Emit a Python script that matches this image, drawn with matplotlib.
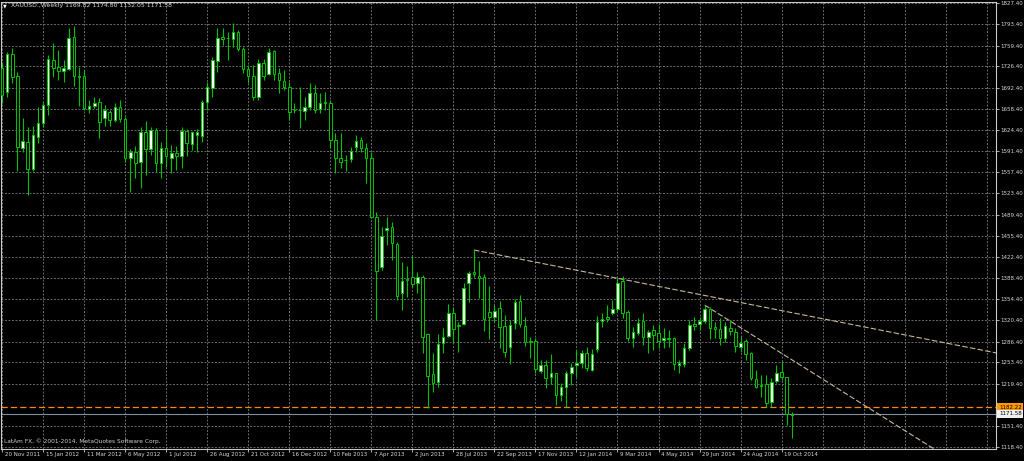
import numpy as np
import matplotlib.pyplot as plt
from matplotlib.transforms import blended_transform_factory, offset_copy

plt.rcParams['font.family'] = ['DejaVu Sans']

# --- data (one bar per week, first bar = 20 Nov 2011)
symbol = "XAUUSD.,Weekly"
credit = "LatAm FX, \u00a9 2001-2014, MetaQuotes Software Corp."

opens = [1724, 1685, 1746, 1711, 1596, 1605, 1562, 1613, 1636, 1665,
         1736, 1725, 1719, 1722, 1773, 1711, 1711, 1658, 1663, 1669,
         1644, 1653, 1641, 1661, 1642, 1580, 1589, 1574, 1621, 1594,
         1625, 1572, 1596, 1580, 1588, 1583, 1623, 1602, 1617, 1615,
         1669, 1692, 1735, 1773, 1772, 1770, 1781, 1754, 1722, 1711,
         1677, 1732, 1714, 1751, 1716, 1703, 1693, 1657, 1657, 1655,
         1661, 1684, 1658, 1669, 1668, 1609, 1580, 1577, 1578, 1597,
         1609, 1596, 1580, 1486, 1406, 1465, 1470, 1443, 1364, 1387,
         1390, 1380, 1390, 1299, 1235, 1222, 1284, 1296, 1332, 1313,
         1315, 1380, 1398, 1391, 1390, 1334, 1326, 1340, 1312, 1278,
         1316, 1352, 1312, 1288, 1288, 1240, 1249, 1230, 1237, 1201,
         1214, 1237, 1249, 1253, 1268, 1241, 1275, 1320, 1326, 1332,
         1339, 1383, 1334, 1292, 1300, 1320, 1294, 1305, 1300, 1289,
         1292, 1292, 1249, 1251, 1276, 1315, 1315, 1320, 1339, 1310,
         1307, 1292, 1308, 1302, 1278, 1288, 1268, 1227, 1217, 1219,
         1190, 1224, 1238, 1230, 1169.82]
highs = [1733, 1749, 1756, 1717, 1644, 1629, 1631, 1661, 1669, 1744,
         1764, 1752, 1736, 1788, 1791, 1725, 1720, 1672, 1677, 1676,
         1665, 1657, 1668, 1672, 1646, 1595, 1599, 1629, 1639, 1629,
         1628, 1605, 1628, 1601, 1599, 1629, 1626, 1623, 1626, 1672,
         1701, 1741, 1787, 1787, 1781, 1795, 1784, 1757, 1728, 1728,
         1738, 1738, 1755, 1752, 1724, 1720, 1701, 1668, 1693, 1677,
         1700, 1696, 1684, 1685, 1672, 1620, 1620, 1585, 1597, 1617,
         1613, 1604, 1589, 1494, 1470, 1486, 1478, 1446, 1414, 1407,
         1423, 1398, 1393, 1300, 1269, 1299, 1308, 1347, 1342, 1318,
         1380, 1399, 1433, 1415, 1395, 1376, 1345, 1351, 1329, 1321,
         1355, 1361, 1326, 1294, 1292, 1257, 1257, 1267, 1237, 1221,
         1240, 1253, 1273, 1273, 1278, 1275, 1328, 1332, 1345, 1353,
         1388, 1391, 1337, 1310, 1324, 1332, 1305, 1313, 1315, 1308,
         1305, 1294, 1257, 1284, 1321, 1326, 1326, 1345, 1342, 1318,
         1324, 1318, 1321, 1308, 1296, 1291, 1270, 1241, 1233, 1233,
         1229, 1249, 1254, 1230, 1174.80]
lows = [1668, 1677, 1700, 1559, 1590, 1521, 1559, 1604, 1630, 1649,
        1709, 1704, 1701, 1720, 1695, 1663, 1656, 1652, 1660, 1612,
        1631, 1631, 1637, 1637, 1574, 1526, 1548, 1532, 1553, 1585,
        1557, 1548, 1566, 1556, 1561, 1564, 1583, 1593, 1589, 1605,
        1657, 1677, 1717, 1760, 1736, 1757, 1751, 1716, 1700, 1672,
        1672, 1704, 1712, 1704, 1684, 1688, 1641, 1652, 1628, 1641,
        1656, 1652, 1652, 1656, 1596, 1556, 1564, 1559, 1573, 1589,
        1589, 1540, 1484, 1321, 1401, 1441, 1417, 1353, 1337, 1358,
        1374, 1364, 1269, 1181, 1206, 1214, 1269, 1294, 1284, 1270,
        1313, 1350, 1390, 1356, 1304, 1291, 1318, 1276, 1262, 1251,
        1307, 1310, 1280, 1260, 1237, 1237, 1213, 1219, 1185, 1192,
        1182, 1217, 1230, 1245, 1240, 1240, 1270, 1310, 1318, 1329,
        1334, 1324, 1288, 1278, 1297, 1281, 1269, 1273, 1276, 1276,
        1278, 1241, 1237, 1246, 1273, 1305, 1305, 1316, 1291, 1292,
        1281, 1286, 1297, 1270, 1270, 1257, 1225, 1213, 1198, 1182,
        1182, 1221, 1225, 1154, 1132.05]
closes = [1681, 1746, 1709, 1598, 1607, 1562, 1617, 1636, 1665, 1738,
          1724, 1719, 1724, 1772, 1711, 1710, 1660, 1663, 1668, 1637,
          1657, 1641, 1661, 1642, 1580, 1589, 1572, 1621, 1594, 1625,
          1572, 1596, 1583, 1588, 1583, 1623, 1604, 1621, 1621, 1669,
          1693, 1736, 1772, 1770, 1771, 1781, 1754, 1722, 1711, 1677,
          1732, 1711, 1749, 1714, 1704, 1693, 1653, 1656, 1656, 1661,
          1684, 1656, 1668, 1667, 1609, 1580, 1573, 1576, 1591, 1607,
          1596, 1580, 1486, 1400, 1455, 1468, 1444, 1360, 1383, 1385,
          1379, 1390, 1294, 1232, 1221, 1283, 1294, 1332, 1307, 1312,
          1372, 1396, 1395, 1388, 1323, 1326, 1336, 1310, 1270, 1313,
          1350, 1315, 1286, 1286, 1243, 1249, 1229, 1237, 1201, 1214,
          1237, 1246, 1253, 1268, 1245, 1267, 1318, 1323, 1323, 1339,
          1380, 1332, 1292, 1302, 1316, 1294, 1302, 1297, 1288, 1292,
          1291, 1251, 1253, 1276, 1313, 1312, 1320, 1339, 1308, 1307,
          1292, 1312, 1304, 1280, 1284, 1267, 1229, 1214, 1216, 1189,
          1222, 1236, 1230, 1171, 1171.58]

date_labels = ["20 Nov 2011", "15 Jan 2012", "11 Mar 2012", "6 May 2012",
               "1 Jul 2012", "26 Aug 2012", "21 Oct 2012", "16 Dec 2012",
               "10 Feb 2013", "7 Apr 2013", "2 Jun 2013", "28 Jul 2013",
               "22 Sep 2013", "17 Nov 2013", "12 Jan 2014", "9 Mar 2014",
               "4 May 2014", "29 Jun 2014", "24 Aug 2014", "19 Oct 2014"]
bars_per_label = 8

price_ticks = [1827.40, 1793.40, 1759.40, 1726.40, 1692.40, 1658.40, 1624.40,
               1591.40, 1557.40, 1523.40, 1489.40, 1455.40, 1422.40, 1388.40,
               1354.40, 1320.40, 1286.40, 1253.40, 1219.40, 1151.40, 1118.40]

hline_level = 1182.22
bid_level = closes[-1]

# trend lines (bar index, price) anchors
trend1_x = [92, 193]
trend1_y = [1433, 1270]
trend2_x = [137, 181]
trend2_y = [1345, 1119]

# --- drawing
green = '#00c400'
o = np.array(opens); h = np.array(highs); l = np.array(lows); c = np.array(closes)
x = np.arange(len(o))
up = c >= o

fig = plt.figure(figsize=(10.24, 4.61), dpi=100, facecolor='black')
ax = fig.add_axes([1 / 1024, 12 / 461, 995 / 1024, 447 / 461])
ax.set_facecolor('black')
ax.set_xlim(-0.2, 193.8)
ax.set_ylim(1115.2, 1829.0)

# grid
major = np.arange(0, len(date_labels) * bars_per_label, bars_per_label)
minor = np.arange(major[-1] + bars_per_label, 194, bars_per_label)
ax.set_xticks(major)
ax.set_xticks(minor, minor=True)
ax.set_yticks(price_ticks)
ax.grid(True, which='both', color='#686c70', linestyle=(0, (2, 1.6)), lw=0.7)
ax.set_axisbelow(True)

# horizontal line object and bid line
ax.axhline(hline_level, color='#ff8800', lw=0.9, linestyle=(0, (5, 2.5)), zorder=1)
ax.axhline(bid_level, color='#7f8ea0', lw=0.8, zorder=1)

# trend lines extended to the right edge
for tx, ty in [(trend1_x, trend1_y), (trend2_x, trend2_y)]:
    slope = (ty[1] - ty[0]) / (tx[1] - tx[0])
    xe = np.array([tx[0], 200])
    ax.plot(xe, ty[0] + slope * (xe - tx[0]), color='#c9b79c', lw=0.8,
            linestyle=(0, (5, 2)), zorder=2)

# candles
ax.vlines(x, l, h, color=green, lw=0.8, zorder=3)
bottom = np.minimum(o, c)
height = np.abs(c - o)
ax.bar(x[up], height[up], bottom=bottom[up], width=0.5, color='white',
       edgecolor=green, lw=0.7, zorder=4)
ax.bar(x[~up], height[~up], bottom=bottom[~up], width=0.5, color='black',
       edgecolor=green, lw=0.7, zorder=4)

# axes look
for s in ax.spines.values():
    s.set_color('#c8c8c8')
    s.set_linewidth(0.8)
ax.yaxis.tick_right()
ax.set_yticklabels([f'{v:.2f}' for v in price_ticks])
ax.tick_params(axis='y', direction='out', length=2, width=0.6, color='#c8c8c8',
               labelcolor='#d8d8d8', labelsize=4, pad=1)
ax.tick_params(axis='x', which='major', direction='out', length=2, width=0.6,
               color='#c8c8c8', labelbottom=False)
ax.tick_params(axis='x', which='minor', length=0, labelbottom=False)

xb = blended_transform_factory(ax.transData, ax.transAxes)
for k, lab in enumerate(date_labels):
    ax.text(k * bars_per_label + 0.55, -0.007, lab, transform=xb, ha='left',
            va='top', fontsize=4, color='#d8d8d8')

# price boxes on the right scale
yb = offset_copy(blended_transform_factory(ax.transAxes, ax.transData),
                 fig=fig, x=3, y=0, units='dots')
ax.text(1.0, hline_level, f'{hline_level:.2f}', transform=yb, ha='left',
        va='center', fontsize=4, color='black', clip_on=False,
        bbox=dict(boxstyle='square,pad=0.3', fc='#ff9900', ec='none'))
ax.text(1.0, bid_level, f'{bid_level:.2f}', transform=yb, ha='left',
        va='center', fontsize=4, color='black', clip_on=False,
        bbox=dict(boxstyle='square,pad=0.3', fc='#f0f0f0', ec='none'))

# header and credit
header = f"{symbol} {opens[-1]:.2f} {highs[-1]:.2f} {lows[-1]:.2f} {closes[-1]:.2f}"
fig.text(5 / 1024, 1 - 6 / 461, '\u25bc', fontsize=3.5, color='white',
         ha='center', va='center')
fig.text(11 / 1024, 1 - 6 / 461, header, fontsize=4.4, color='#d8d8d8',
         ha='left', va='center')
ax.text(0.003, 0.012, credit, transform=ax.transAxes, fontsize=4.2,
        color='#d0d0d0', ha='left', va='bottom')

fig.savefig('out.png', dpi=100, facecolor='black')
